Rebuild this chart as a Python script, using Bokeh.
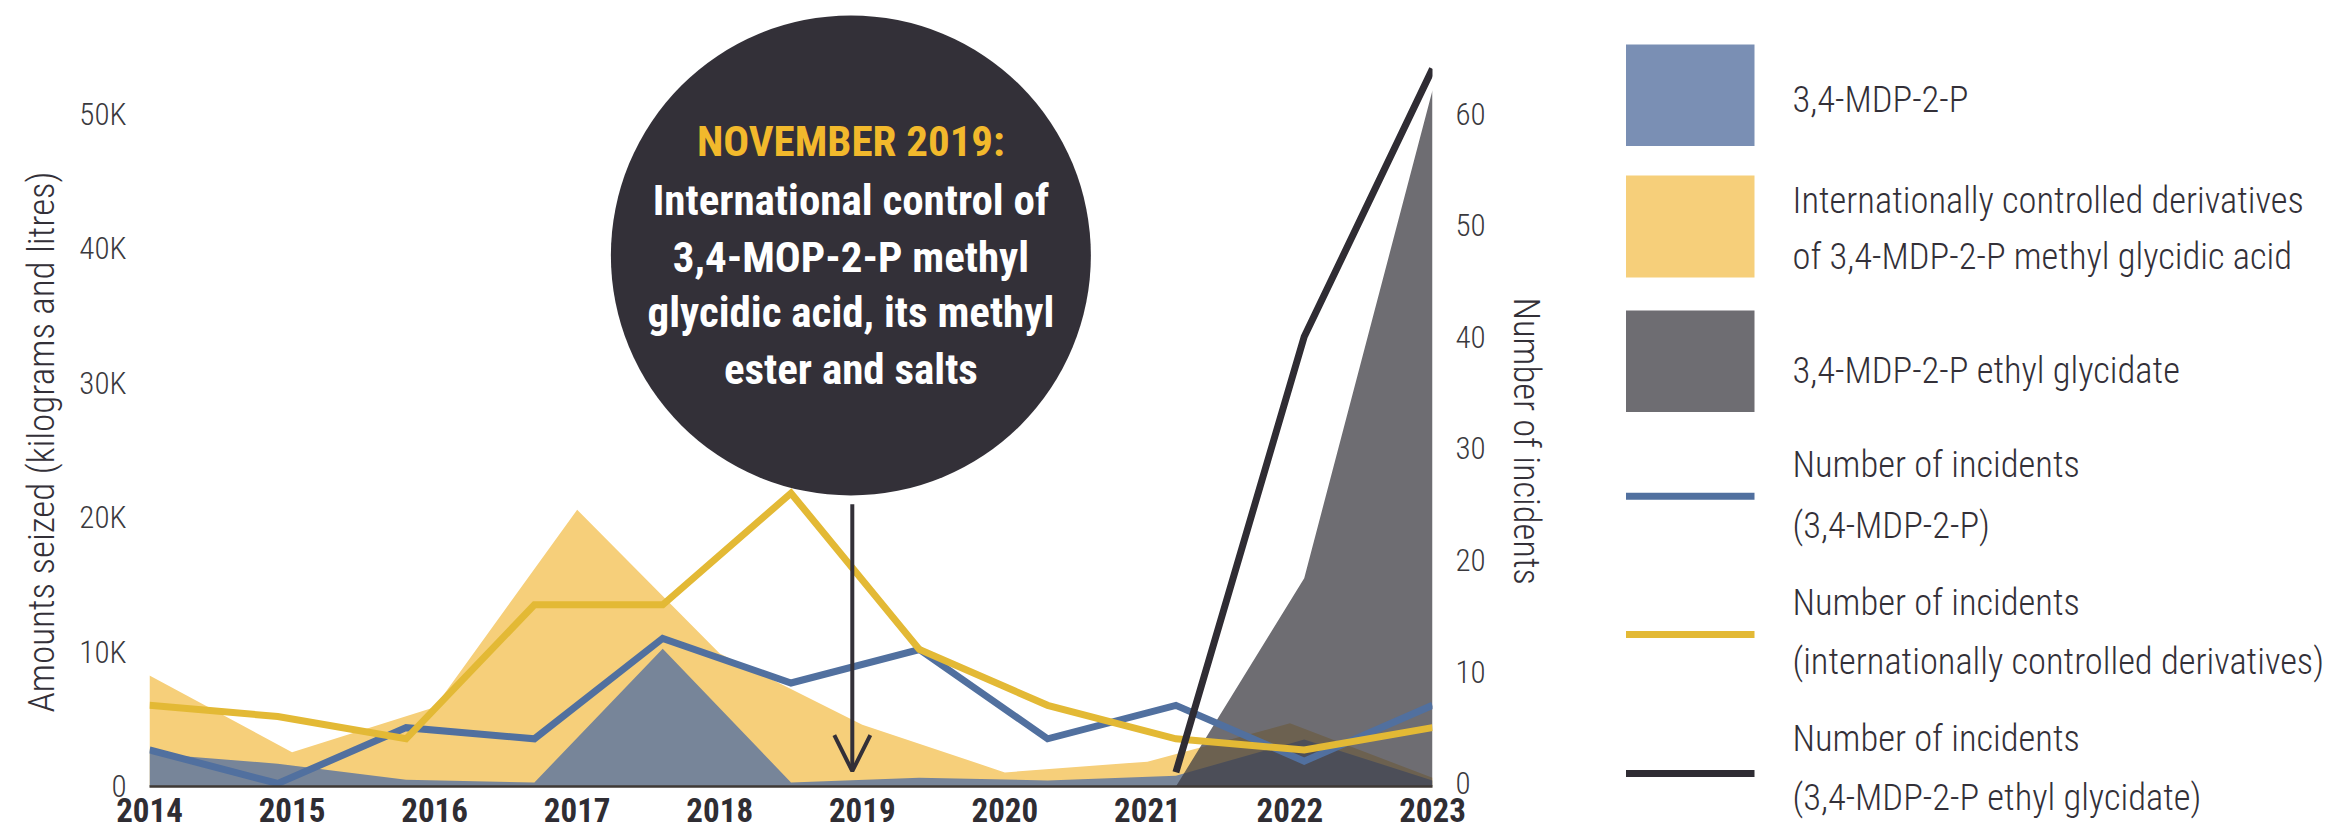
from bokeh.plotting import figure
from bokeh.layouts import row
from bokeh.models import (Range1d, LinearAxis, FixedTicker, Grid,
                          Arrow, OpenHead, CustomJSTickFormatter, Title)
from bokeh.embed import file_html
from bokeh.resources import INLINE
from bokeh.core.properties import value

# ---------------- data ----------------
years = [2014, 2015, 2016, 2017, 2018, 2019, 2020, 2021, 2022, 2023]
# amounts seized (kilograms and litres), internationally controlled derivatives
amt_derivatives = [8250, 2550, 5900, 20600, 9900, 4600, 1050, 1850, 4700, 650]

# the other series are drawn on an 11-step grid spanning the same period
steps = [0, 1, 2, 3, 4, 5, 6, 7, 8, 9, 10]
amt_mdp2p = [2450, 1700, 500, 300, 10250, 300, 650, 450, 800, 3500, 450]
amt_ethyl = [None, None, None, None, None, None, None, None, 0, 15500, 51800]
inc_mdp2p = [3, 0, 5, 4, 13, 9, 12, 4, 7, 2, 7]
inc_derivatives = [7, 6, 4, 16, 16, 26, 12, 7, 4, 3, 5]
inc_ethyl = [None, None, None, None, None, None, None, None, 1, 40, 64]

amt_ticks = [0, 10000, 20000, 30000, 40000, 50000]
inc_ticks = [0, 10, 20, 30, 40, 50, 60]

annotation_title = "NOVEMBER 2019:"
annotation_lines = ["International control of", "3,4-MOP-2-P methyl",
                    "glycidic acid, its methyl", "ester and salts"]

legend_area_labels = [["3,4-MDP-2-P"],
                      ["Internationally controlled derivatives",
                       "of 3,4-MDP-2-P methyl glycidic acid"],
                      ["3,4-MDP-2-P ethyl glycidate"]]
legend_line_labels = [["Number of incidents", "(3,4-MDP-2-P)"],
                      ["Number of incidents", "(internationally controlled derivatives)"],
                      ["Number of incidents", "(3,4-MDP-2-P ethyl glycidate)"]]

# ---------------- style ----------------
THIN = "Roboto Condensed Light, Noto Sans ExtraCondensed Light, Liberation Sans Narrow, DejaVu Sans Condensed, Roboto"
BOLD = "Roboto Condensed, Noto Sans ExtraCondensed, Liberation Sans Narrow, DejaVu Sans Condensed, Roboto"
TXT = "#333038"
C_BLUE_AREA, C_YEL_AREA, C_GREY_AREA = "#7a8fb4", "#f6cf7a", "#6e6d72"
C_BLUE_LINE, C_YEL_LINE, C_BLK_LINE = "#51709f", "#e3b935", "#2f2c33"


def present(xs, ys):
    pts = [(x, y) for x, y in zip(xs, ys) if y is not None]
    return [q[0] for q in pts], [q[1] for q in pts]


def no_grid(fig):
    fig.center = [r for r in fig.center if not isinstance(r, Grid)]


W1 = 1590
p = figure(width=W1, height=836, output_backend="svg", toolbar_location=None,
           title=None, x_range=Range1d(2014, 2023), y_range=Range1d(0, 58480),
           x_axis_location=None, y_axis_location=None,
           min_border_left=149, min_border_right=W1 - 1432, min_border_top=0,
           min_border_bottom=50)
p.frame_align = False
p.extra_x_ranges = {"steps": Range1d(0, 10)}
p.extra_y_ranges = {"inc": Range1d(-0.27, 70.12)}
p.outline_line_color = None
p.background_fill_color = "white"
p.border_fill_color = "white"
no_grid(p)

# axes
xaxis = LinearAxis(ticker=FixedTicker(ticks=years))
xaxis.axis_line_color = "#3e3935"
xaxis.axis_line_width = 2.5
xaxis.major_tick_line_color = None
xaxis.minor_tick_line_color = None
xaxis.major_tick_out = 0
xaxis.major_tick_in = 0
xaxis.major_label_standoff = 11
xaxis.major_label_text_font = BOLD
xaxis.major_label_text_font_style = "bold"
xaxis.major_label_text_font_size = "33px"
xaxis.major_label_text_color = "#2f2d33"
p.add_layout(xaxis, "below")

yaxis = LinearAxis(ticker=FixedTicker(ticks=amt_ticks),
                   formatter=CustomJSTickFormatter(code="return tick == 0 ? '0' : (tick / 1000) + 'K';"))
rax = LinearAxis(y_range_name="inc", ticker=FixedTicker(ticks=inc_ticks))
for ax in (yaxis, rax):
    ax.axis_line_color = None
    ax.major_tick_line_color = None
    ax.minor_tick_line_color = None
    ax.major_tick_out = 0
    ax.major_tick_in = 0
    ax.major_label_standoff = 23
    ax.major_label_text_font = THIN
    ax.major_label_text_font_size = "31px"
    ax.major_label_text_color = "#3a393d"
p.add_layout(yaxis, "left")
p.add_layout(rax, "right")

ltitle = Title(text="Amounts seized (kilograms and litres)", align="left", offset=74,
               standoff=25, vertical_align="middle", text_font=THIN,
               text_font_style="normal", text_font_size="37px", text_color=TXT)
rtitle = Title(text="Number of incidents", align="left", offset=297,
               standoff=31, vertical_align="middle", text_font=THIN,
               text_font_style="normal", text_font_size="36.5px", text_color=TXT)
p.add_layout(ltitle, "left")
p.add_layout(rtitle, "right")

# areas
p.varea(x=years, y1=0, y2=amt_derivatives, fill_color=C_YEL_AREA)
p.varea(x=steps, y1=0, y2=amt_mdp2p, fill_color="#778599", x_range_name="steps")
ex, ey = present(steps, amt_ethyl)
p.varea(x=ex, y1=0, y2=ey, fill_color="#3e3c43", fill_alpha=0.75, x_range_name="steps")

# incident lines
p.line(steps, inc_mdp2p, line_color=C_BLUE_LINE, line_width=7, line_join="miter",
       x_range_name="steps", y_range_name="inc")
p.line(steps, inc_derivatives, line_color=C_YEL_LINE, line_width=7, line_join="miter",
       x_range_name="steps", y_range_name="inc")
bx, by = present(steps, inc_ethyl)
p.line(bx, by, line_color=C_BLK_LINE, line_width=7, line_join="miter",
       x_range_name="steps", y_range_name="inc")

# annotation bubble
cx = 2018.92
p.scatter(x=[cx], y=[39510], size=480, marker="circle", fill_color="#333038", line_color=None)
p.text(x=[cx], y=[47990], text=[annotation_title], text_font=value(BOLD),
       text_font_style="bold", text_font_size="43px", text_color="#f2b92c",
       text_align="center", text_baseline="middle")
p.text(x=[cx] * 4, y=[43600, 39430, 35270, 31100], text=annotation_lines,
       text_font=value(BOLD), text_font_style="bold", text_font_size="43px",
       text_color="white", text_align="center", text_baseline="middle")
p.add_layout(Arrow(end=OpenHead(size=36, line_width=4, line_color="#333038"),
                   x_start=2018.93, y_start=21000, x_end=2018.93, y_end=1140,
                   line_width=4, line_color="#333038"))

# ---------------- legend panel (pixel coordinates, y downwards) ----------------
W2 = 2331 - W1
p2 = figure(width=W2, height=836, output_backend="svg", toolbar_location=None,
            title=None, x_range=Range1d(0, W2), y_range=Range1d(836, 0),
            x_axis_location=None, y_axis_location=None,
            min_border_left=0, min_border_right=0, min_border_top=0, min_border_bottom=0)
p2.frame_align = False
p2.outline_line_color = None
p2.background_fill_color = "white"
p2.border_fill_color = "white"
no_grid(p2)

sw_left, sw_right, text_x = 35.5, 164, 202
area_boxes = [(44, 145.5), (175, 277), (310, 411.5)]
area_text_y = [[98.6], [200, 256], [370]]
line_y = [495.7, 634, 773]
line_text_y = [[464, 525], [602, 661], [738, 797]]

p2.quad(left=sw_left, right=sw_right, top=[b[0] for b in area_boxes],
        bottom=[b[1] for b in area_boxes],
        fill_color=[C_BLUE_AREA, C_YEL_AREA, C_GREY_AREA], line_color=None)
p2.segment(x0=sw_left, x1=sw_right, y0=line_y, y1=line_y,
           line_color=[C_BLUE_LINE, C_YEL_LINE, C_BLK_LINE], line_width=7)

texts, tys = [], []
for labels, ys in zip(legend_area_labels + legend_line_labels, area_text_y + line_text_y):
    texts.extend(labels)
    tys.extend(ys)
p2.text(x=[text_x] * len(texts), y=tys, text=texts, text_font=value(THIN),
        text_font_size="36.5px", text_color=TXT, text_align="left", text_baseline="middle")

layout = row(p, p2)
open("out.html", "w").write(file_html(layout, INLINE))
